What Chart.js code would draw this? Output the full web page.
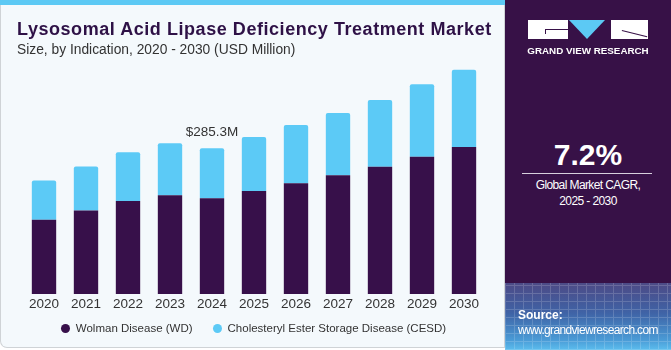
<!DOCTYPE html>
<html>
<head>
<meta charset="utf-8">
<script src="https://cdn.jsdelivr.net/npm/chart.js@4.4.0/dist/chart.umd.min.js"></script>
<style>
    html, body { margin: 0; padding: 0; }
    body { width: 671px; height: 350px; overflow: hidden; background: #ffffff; font-family: "Liberation Sans", Arial, sans-serif; }
    #wrap { position: relative; width: 671px; height: 350px; }
    #left {
        position: absolute; left: 0; top: 0; width: 503px; height: 347px;
        background: #f4f9fc; border: 1px solid #cfd3d6; border-top: none;
        border-radius: 0 0 0 7px; overflow: hidden;
    }
    #strip { position: absolute; left: 0; top: 0; width: 505px; height: 5px; background: #5cc9f4; }
    #title {
        position: absolute; left: 17px; top: 19px; font-size: 18px; font-weight: bold;
        color: #2e1146; white-space: nowrap; letter-spacing: 0.55px;
    }
    #subtitle { position: absolute; left: 17px; top: 42px; font-size: 13.8px; color: #333333; white-space: nowrap; }
    #chart-box { position: absolute; left: 0; top: 0; width: 505px; height: 347px; }
    #legend {
        position: absolute; left: 0; top: 320px; width: 505px; height: 16px;
        display: flex; justify-content: center; align-items: center; gap: 20px;
        font-size: 11.5px; color: #333333;
    }
    #legend .item { display: flex; align-items: center; gap: 6px; white-space: nowrap; }
    #legend .dot { width: 9px; height: 9px; border-radius: 50%; }
    #right {
        position: absolute; left: 505px; top: 0; width: 166px; height: 350px;
        background: #371147; color: #ffffff; overflow: hidden;
    }
    #ground {
        position: absolute; left: 0; top: 283px; width: 166px; height: 67px;
        background: linear-gradient(to bottom, #4d4a86 0%, #3f63a6 45%, #4a9bd6 85%, #5cbdee 100%);
    }
    #grid {
        position: absolute; left: 0; top: 283px; width: 166px; height: 67px; opacity: 0.16;
        background-image: repeating-linear-gradient(90deg, #ffffff 0 1px, transparent 1px 9px),
                          repeating-linear-gradient(0deg, #ffffff 0 1px, transparent 1px 8px);
    }
    .logo-block { position: absolute; top: 20px; height: 19px; background: #ffffff; }
    .logo-cut { position: absolute; background: #371147; }
    #logo-v {
        position: absolute; left: 64px; top: 20px; width: 0; height: 0;
        border-left: 18px solid transparent; border-right: 18px solid transparent;
        border-top: 19px solid #5cc9f4;
    }
    #gvr { position: absolute; left: 0; width: 166px; top: 45px; text-align: center; font-size: 9.8px; font-weight: bold; }
    #cagr { position: absolute; left: 0; width: 166px; top: 138px; text-align: center; font-size: 30px; font-weight: bold; }
    #rule { position: absolute; left: 17px; width: 130px; top: 173px; height: 1px; background: #d8d0de; }
    #cagr-text { position: absolute; left: 0; width: 166px; top: 177px; text-align: center; font-size: 12px; line-height: 16px; letter-spacing: -0.6px; }
    #source { position: absolute; left: 13px; top: 308px; font-size: 12px; line-height: 14.5px; letter-spacing: -0.65px; }
    #source b { letter-spacing: 0; }
</style>
</head>
<body>
<div id="wrap">
    <div id="left">
        <div id="chart-box"><canvas id="market-chart" width="505" height="347"></canvas></div>
        <div id="legend"></div>
    </div>
    <div id="strip"></div>
    <div id="title">Lysosomal Acid Lipase Deficiency Treatment Market</div>
    <div id="subtitle">Size, by Indication, 2020 - 2030 (USD Million)</div>
    <div id="right">
        <div class="logo-block" style="left: 23px; width: 40px;"></div>
        <div class="logo-cut" style="left: 40px; top: 29px; width: 23px; height: 1px;"></div>
        <div class="logo-cut" style="left: 40px; top: 29px; width: 1px; height: 5px;"></div>
        <div id="logo-v"></div>
        <div class="logo-block" style="left: 106px; width: 37px;"></div>
        <div class="logo-cut" style="left: 117px; top: 30px; width: 26px; height: 1px; transform: rotate(14deg); transform-origin: 0 0;"></div>
        <div id="gvr">GRAND VIEW RESEARCH</div>
        <div id="cagr">7.2%</div>
        <div id="rule"></div>
        <div id="cagr-text">Global Market CAGR,<br>2025 - 2030</div>
        <div id="ground"></div>
        <div id="grid"></div>
        <div id="source"><b>Source:</b><br>www.grandviewresearch.com</div>
    </div>
</div>
<script>
// --- Dados do gráfico ---
const years = ['2020', '2021', '2022', '2023', '2024', '2025', '2026', '2027', '2028', '2029', '2030'];
const wolmanValues = [145.3, 163.7, 182.0, 193.2, 187.3, 201.7, 216.9, 232.7, 249.0, 268.8, 287.9];
const cesdValues = [76.9, 86.1, 95.4, 102.0, 98.0, 105.9, 113.8, 121.6, 131.0, 142.0, 151.2];
const annotationIndex = 4;
const annotationText = '$285.3M';

const darkPurple = '#37104a';
const lightBlue = '#5ccaf6';

// Rótulo de valor acima da barra de 2024
const totalLabelPlugin = {
    id: 'totalLabel',
    afterDatasetsDraw(chart) {
        const ctx = chart.ctx;
        const x = chart.scales.x.getPixelForValue(annotationIndex);
        const total = wolmanValues[annotationIndex] + cesdValues[annotationIndex];
        const y = chart.scales.y.getPixelForValue(total);
        ctx.save();
        ctx.font = '13.5px "Liberation Sans", Arial, sans-serif';
        ctx.fillStyle = '#333333';
        ctx.textAlign = 'center';
        ctx.textBaseline = 'alphabetic';
        ctx.fillText(annotationText, x, y - 12);
        ctx.restore();
    }
};

// Legenda em HTML gerada a partir dos datasets
const htmlLegendPlugin = {
    id: 'htmlLegend',
    afterUpdate(chart) {
        const container = document.getElementById('legend');
        container.innerHTML = '';
        const items = chart.options.plugins.legend.labels.generateLabels(chart);
        items.forEach(item => {
            const el = document.createElement('div');
            el.className = 'item';
            const dot = document.createElement('span');
            dot.className = 'dot';
            dot.style.background = item.fillStyle;
            const text = document.createElement('span');
            text.textContent = item.text;
            el.appendChild(dot);
            el.appendChild(text);
            container.appendChild(el);
        });
    }
};

new Chart(document.getElementById('market-chart'), {
    type: 'bar',
    data: {
        labels: years,
        datasets: [
            {
                label: 'Wolman Disease (WD)',
                data: wolmanValues,
                backgroundColor: darkPurple,
                borderWidth: 0
            },
            {
                label: 'Cholesteryl Ester Storage Disease (CESD)',
                data: cesdValues,
                backgroundColor: lightBlue,
                borderWidth: 0,
                borderRadius: { topLeft: 2, topRight: 2 },
                borderSkipped: false
            }
        ]
    },
    options: {
        responsive: false,
        animation: false,
        devicePixelRatio: 1,
        categoryPercentage: 1,
        barPercentage: 0.58,
        layout: { padding: { left: 22, right: 21, top: 59, bottom: 32.3 } },
        plugins: {
            legend: { display: false },
            tooltip: { enabled: false }
        },
        scales: {
            x: {
                stacked: true,
                grid: { display: false, drawTicks: false },
                border: { display: false },
                ticks: {
                    padding: 2.2,
                    color: '#333333',
                    font: { family: '"Liberation Sans", Arial, sans-serif', size: 13.5 }
                }
            },
            y: {
                stacked: true,
                display: false,
                min: 0,
                max: 460
            }
        }
    },
    plugins: [totalLabelPlugin, htmlLegendPlugin]
});
</script>
</body>
</html>
